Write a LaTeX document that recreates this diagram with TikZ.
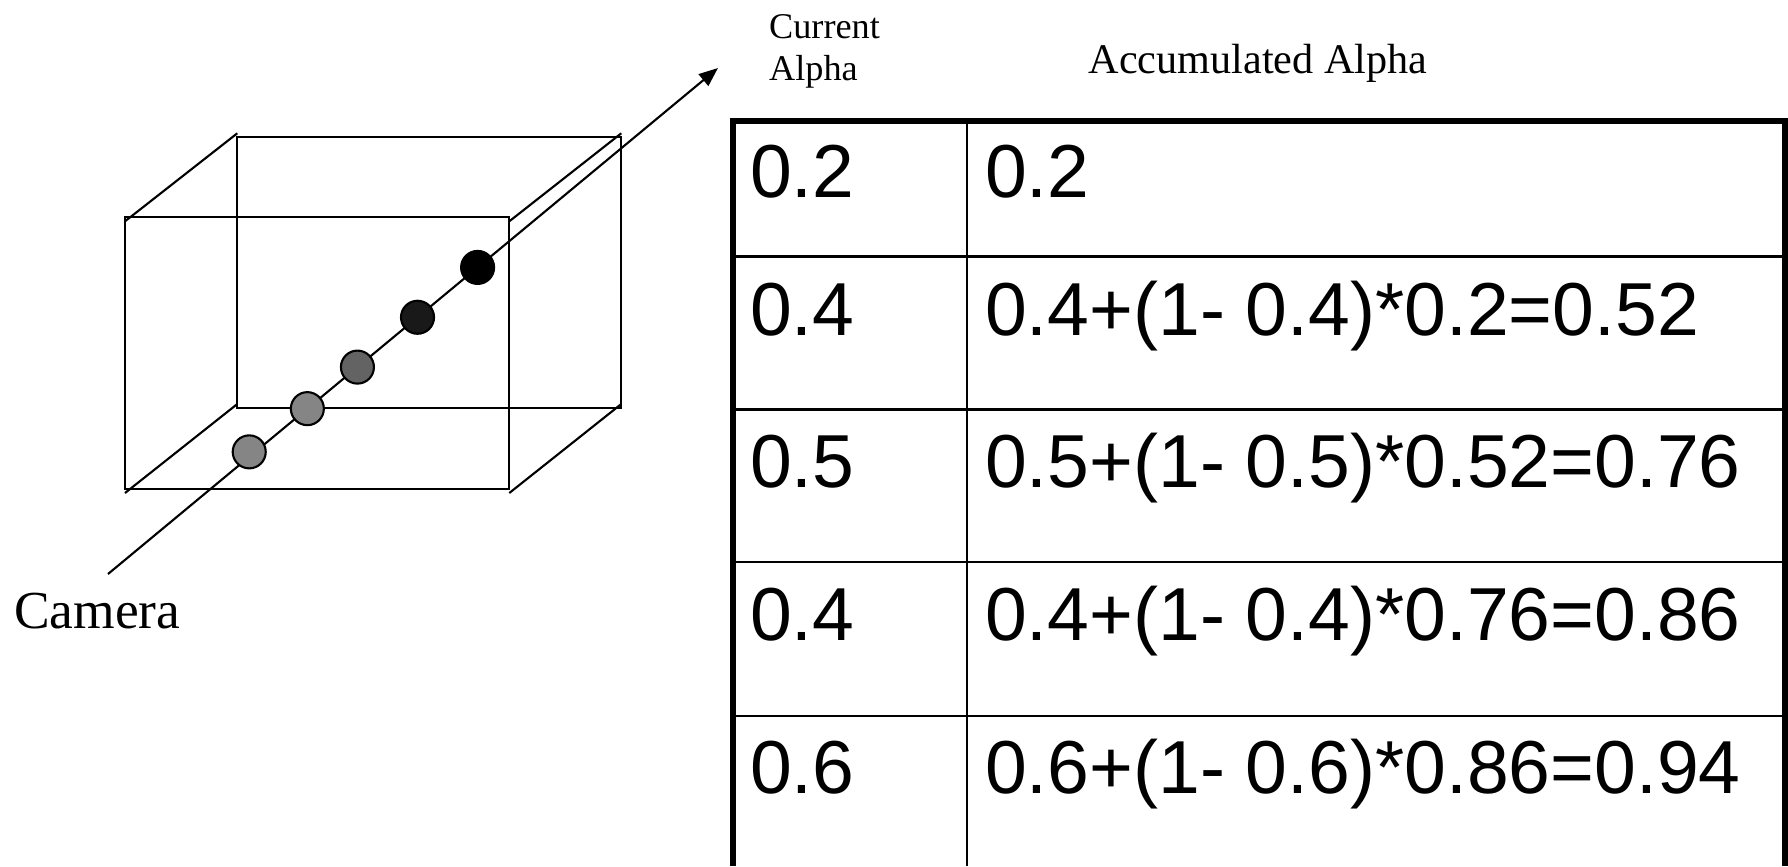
\documentclass[tikz,border=0pt]{standalone}
\usepackage{fontspec}
\setmainfont{Liberation Serif}
\newfontfamily\arialfont{Liberation Sans}
\usetikzlibrary{arrows.meta}
\begin{document}
\begin{tikzpicture}[x=0.01cm,y=-0.01cm,
  edge/.style={line width=0.6pt},
  dotnode/.style={circle,draw,line width=0.6pt,minimum size=0.33cm,inner sep=0pt},
  cell/.style={anchor=base west,inner sep=0pt,font=\arialfont\fontsize{21.35}{24}\selectfont},
  thickrule/.style={line width=1.45pt},
  thinrule/.style={line width=0.7pt},
  lbl/.style={anchor=base west,inner sep=0pt}
]
\useasboundingbox (0,0) rectangle (1788,866);
% cube
\coordinate (F1) at (125,217.3);
\coordinate (F2) at (509.3,217.3);
\coordinate (F3) at (509.3,489);
\coordinate (F4) at (125,489);
\coordinate (B1) at (237.3,137.3);
\coordinate (B2) at (621.3,137.3);
\coordinate (B3) at (621.3,408);
\coordinate (B4) at (237.3,408);
\draw[edge] (B1) rectangle (B3);
\draw[edge] (F1) rectangle (F3);
\draw[edge] ([yshift=-0.04cm]F1) -- ([yshift=0.04cm]B1);
\draw[edge] ([yshift=-0.04cm]F2) -- ([yshift=0.04cm]B2);
\draw[edge] ([yshift=-0.04cm]F3) -- ([yshift=0.04cm]B3);
\draw[edge] ([yshift=-0.04cm]F4) -- ([yshift=0.04cm]B4);
% ray
\coordinate (cam) at (108,574);
\coordinate (tip) at (718,68);
\draw[edge,-{Triangle[length=0.19cm,width=0.15cm]}] (cam) -- (tip);
\path (cam) -- (tip)
  node[dotnode,fill=black!48,pos=0.2315,yshift=0.05cm] (d1) {}
  node[dotnode,fill=black!48,pos=0.3268] (d2) {}
  node[dotnode,fill=black!61,pos=0.4089] (d3) {}
  node[dotnode,fill=black!90,pos=0.5074] (d4) {}
  node[dotnode,fill=black,pos=0.6059] (d5) {};
\node[lbl,font=\fontsize{15.2}{17}\selectfont] (camlabel) at (13.5,628) {Camera};
% headers
\node[lbl,font=\fontsize{10.3}{11.84}\selectfont,align=left] (cur) at (768.5,80.5) {Current\\Alpha};
\node[lbl,font=\fontsize{12}{14}\selectfont] (acc) at (1088,73.3) {Accumulated Alpha};
% table
\draw[thinrule] (967,121) -- (967,866);
\foreach \yy in {256.6,409.4,562.2,716.1} \draw[thinrule] (733,\yy) -- (1785,\yy);
\draw[thickrule] (733,866) -- (733,121) -- (1785,121) -- (1785,866);
\node[cell] (a1) at (749.5,197) {0.2};
\node[cell] (b1) at (984.5,197) {0.2};
\node[cell] (a2) at (749.5,335) {0.4};
\node[cell] (b2) at (984.5,335) {0.4+(1- 0.4)*0.2=0.52};
\node[cell] (a3) at (749.5,487.5) {0.5};
\node[cell] (b3) at (984.5,487.5) {0.5+(1- 0.5)*0.52=0.76};
\node[cell] (a4) at (749.5,640.5) {0.4};
\node[cell] (b4) at (984.5,640.5) {0.4+(1- 0.4)*0.76=0.86};
\node[cell] (a5) at (749.5,793) {0.6};
\node[cell] (b5) at (984.5,793) {0.6+(1- 0.6)*0.86=0.94};
\end{tikzpicture}
\end{document}
